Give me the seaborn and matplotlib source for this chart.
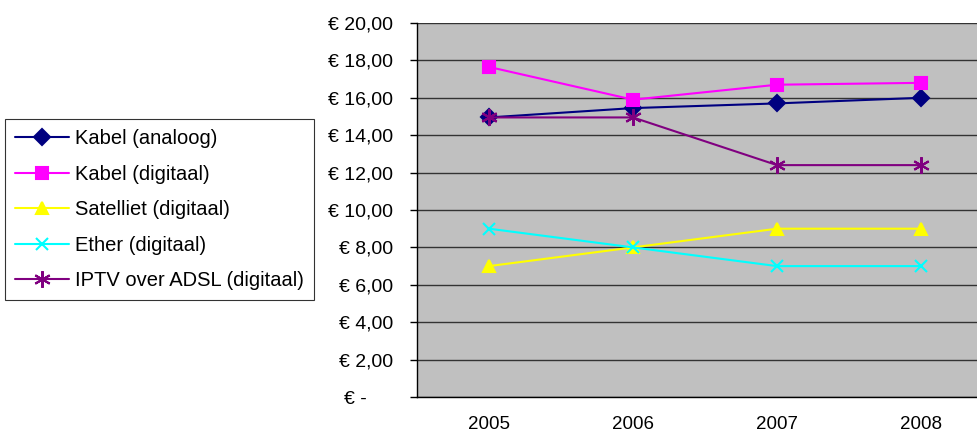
import matplotlib
matplotlib.use("Agg")
import matplotlib.pyplot as plt
import seaborn as sns
import pandas as pd

years = ["2005", "2006", "2007", "2008"]
kabel_analoog = [14.95, 15.45, 15.70, 16.00]
kabel_digitaal = [17.65, 15.90, 16.70, 16.80]
satelliet = [7.00, 8.00, 9.00, 9.00]
ether = [9.00, 8.00, 7.00, 7.00]
iptv = [14.95, 14.95, 12.40, 12.40]
y_ticks = [0, 2, 4, 6, 8, 10, 12, 14, 16, 18, 20]

series = [
    ("Kabel (analoog)", kabel_analoog, "#000080", "D", 8),
    ("Kabel (digitaal)", kabel_digitaal, "#FF00FF", "s", 8),
    ("Satelliet (digitaal)", satelliet, "#FFFF00", "^", 9),
    ("Ether (digitaal)", ether, "#00FFFF", "x", 9),
    ("IPTV over ADSL (digitaal)", iptv, "#800080", (6, 2, 0), 12),
]

sns.set_style("white")
plt.rcParams["font.family"] = ["Liberation Sans", "DejaVu Sans"]
plt.rcParams["text.color"] = "black"
plt.rcParams["xtick.color"] = "black"
plt.rcParams["ytick.color"] = "black"

fig = plt.figure(figsize=(9.77, 4.34), dpi=100)
ax = fig.add_axes([417 / 977, 1 - 397 / 434, 576 / 977, 374 / 434])
ax.set_facecolor("#C0C0C0")

xpos = list(range(len(years)))
for name, vals, color, marker, ms in series:
    df = pd.DataFrame({"x": xpos, "y": vals})
    sns.lineplot(data=df, x="x", y="y", ax=ax, color=color, marker=marker,
                 markersize=ms, markeredgecolor=color, markeredgewidth=1.5,
                 linewidth=1.5, label=name)

ax.set_xlim(-0.5, 3.5)
ax.set_ylim(0, 20)
ax.set_yticks(y_ticks)
# accounting style: zero shown as a dash, kept left of the decimal column
ax.set_yticklabels(["€ -     "] + [f"€ {v:.2f}".replace(".", ",") for v in y_ticks[1:]])
ax.yaxis.grid(True, color="#333333", linewidth=1.0)
ax.set_axisbelow(True)

ax.set_xticks(xpos)
ax.set_xticklabels(years)
ax.set_xticks([-0.5, 0.5, 1.5, 2.5, 3.5], minor=True)
ax.tick_params(axis="x", which="major", length=0, pad=14, labelsize=13.5)
ax.tick_params(axis="x", which="minor", length=5, width=1, color="black", direction="out")
ax.tick_params(axis="y", length=5, width=1, color="black", direction="out",
               left=True, pad=12, labelsize=14)
ax.set_xlabel("")
ax.set_ylabel("")

for side in ["top", "right"]:
    ax.spines[side].set_visible(False)
for side in ["left", "bottom"]:
    ax.spines[side].set_color("black")
    ax.spines[side].set_linewidth(1.0)

ax.get_legend().remove()
handles, labels = ax.get_legend_handles_labels()
leg = fig.legend(handles, labels, loc="upper left",
                 bbox_to_anchor=(5 / 977, 1 - 119 / 434),
                 frameon=True, fancybox=False, fontsize=14.5,
                 handlelength=2.7, labelspacing=0.82, borderpad=0.5,
                 handletextpad=0.3, borderaxespad=0)
leg.get_frame().set_edgecolor("black")
leg.get_frame().set_linewidth(0.8)

fig.savefig("out.png", dpi=100)
